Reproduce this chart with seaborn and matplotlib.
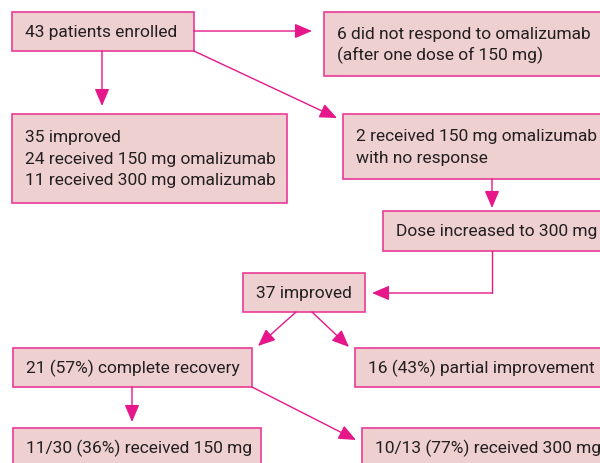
import matplotlib
matplotlib.use("Agg")
import matplotlib.pyplot as plt
import seaborn as sns
from matplotlib.patches import Rectangle

sns.set_theme(style="white")
plt.rcParams['font.family'] = ['Roboto', 'DejaVu Sans']

# box texts
labels = [
    "43 patients enrolled",
    "6 did not respond to omalizumab\n(after one dose of 150 mg)",
    "35 improved\n24 received 150 mg omalizumab\n11 received 300 mg omalizumab",
    "2 received 150 mg omalizumab\nwith no response",
    "Dose increased to 300 mg",
    "37 improved",
    "21 (57%) complete recovery",
    "16 (43%) partial improvement",
    "11/30 (36%) received 150 mg",
    "10/13 (77%) received 300 mg",
]

# layout: x0, y0, x1, y1 in pixels (y down)
boxes = [
    (12, 13, 194, 52),
    (324, 13, 612, 77),
    (12, 115, 287, 204),
    (343, 115, 612, 180),
    (383, 212, 612, 252),
    (243, 274, 365, 313),
    (13, 349, 252, 388),
    (355, 349, 612, 388),
    (13, 429, 261, 480),
    (362, 429, 612, 480),
]

# arrows as (start, end) pairs and polyline for the elbow
arrows = [
    ((194, 32), (312, 32)),
    ((102, 52), (102, 107)),
    ((194, 52), (337, 119)),
    ((492, 180), (492, 209)),
    ((296, 313), (258, 347)),
    ((312, 313), (349, 348)),
    ((132, 388), (132, 423)),
    ((252, 388), (356, 441)),
]
elbow = [(492, 252), (492, 294), (372, 294)]

fill = "#efd0d0"
edge = "#ea3a97"
arrow_c = "#e5178a"
line_gap = 21.5

fig = plt.figure(figsize=(6, 4.64), dpi=100)
ax = fig.add_axes([0, 0, 1, 1])
ax.set_xlim(0, 600)
ax.set_ylim(464, 0)
ax.axis("off")

for (x0, y0, x1, y1), text in zip(boxes, labels):
    ax.add_patch(Rectangle((x0, y0), x1 - x0, y1 - y0, facecolor=fill,
                           edgecolor=edge, linewidth=1.2))
    yc = (y0 + y1) / 2
    if y1 > 464:
        yc = 448
    lines = text.split("\n")
    n = len(lines)
    for i, line in enumerate(lines):
        ax.text(x0 + 13, yc + (i - (n - 1) / 2) * line_gap, line,
                ha="left", va="center", fontsize=12.5, color="#231f20")

aprops = dict(arrowstyle="-|>,head_length=0.75,head_width=0.32",
              color=arrow_c, lw=1.0, shrinkA=0, shrinkB=0, mutation_scale=14)
for start, end in arrows:
    ax.annotate("", xy=end, xytext=start, arrowprops=aprops)

ax.plot([p[0] for p in elbow[:2]], [p[1] for p in elbow[:2]], color=arrow_c, lw=1.0)
ax.annotate("", xy=elbow[2], xytext=elbow[1], arrowprops=aprops)

fig.savefig("out.png", dpi=100)
